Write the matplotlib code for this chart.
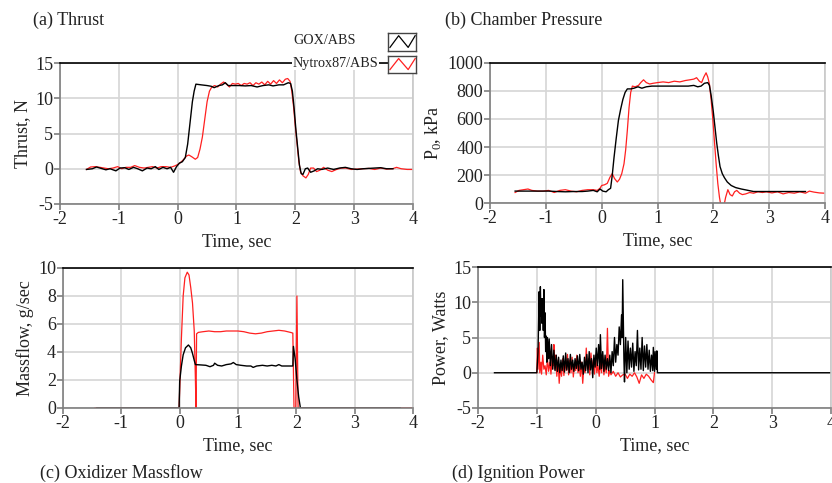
import matplotlib
matplotlib.use("Agg")
import matplotlib.pyplot as plt
import numpy as np

plt.rcParams['font.family'] = ['Liberation Serif', 'DejaVu Serif']
plt.rcParams['mathtext.fontset'] = 'custom'
plt.rcParams['mathtext.rm'] = 'Liberation Serif'
plt.rcParams['axes.unicode_minus'] = False

# ---- (a) thrust, N ----
thrust_gox_t = [-1.55, -1.45, -1.38, -1.30, -1.22, -1.15, -1.05, -0.98, -0.90, -0.83, -0.75, -0.68,
                -0.60, -0.52, -0.45, -0.38, -0.32, -0.25, -0.18, -0.12, -0.07, -0.02, 0.03, 0.08,
                0.13, 0.17, 0.21, 0.25, 0.28, 0.31, 0.40, 0.50, 0.57, 0.62, 0.70, 0.76, 0.81, 0.86,
                0.95, 1.05, 1.15, 1.25, 1.35, 1.45, 1.55, 1.62, 1.72, 1.80, 1.88, 1.92, 1.95, 1.98,
                2.01, 2.04, 2.07, 2.10, 2.13, 2.17, 2.21, 2.26, 2.32, 2.38, 2.45, 2.55, 2.65, 2.75,
                2.85, 2.95, 3.05, 3.15, 3.25, 3.35, 3.45, 3.55, 3.66]
thrust_gox = [-0.1, 0.0, 0.25, 0.05, -0.15, 0.0, -0.3, 0.1, 0.15, -0.1, 0.2, 0.0,
              -0.3, 0.1, 0.0, 0.3, -0.1, 0.2, 0.0, 0.2, -0.5, 0.3, 0.8, 1.0,
              1.6, 3.5, 6.5, 9.5, 11.0, 12.0, 11.9, 11.8, 11.7, 11.5, 11.8, 11.9, 12.2, 11.8,
              11.8, 11.8, 11.75, 11.8, 11.6, 11.8, 11.9, 11.75, 11.9, 11.9, 12.2, 12.1, 11.0, 8.5,
              5.5, 3.0, 0.5, -0.7, -0.8, 0.0, 0.1, -0.5, -0.3, 0.0, -0.1, 0.1, -0.1, 0.1,
              0.2, 0.0, -0.1, 0.0, 0.05, 0.1, 0.15, 0.0, 0.0]
thrust_nyt_t = [-1.55, -1.48, -1.40, -1.32, -1.25, -1.18, -1.10, -1.02, -0.95, -0.88, -0.80, -0.73,
                -0.65, -0.57, -0.50, -0.43, -0.35, -0.28, -0.20, -0.12, -0.05, 0.00, 0.05, 0.10,
                0.15, 0.19, 0.24, 0.30, 0.34, 0.38, 0.42, 0.46, 0.50, 0.54, 0.58, 0.63, 0.68, 0.73,
                0.78, 0.83, 0.88, 0.93, 0.98, 1.03, 1.08, 1.13, 1.18, 1.23, 1.28, 1.33, 1.38, 1.43,
                1.48, 1.53, 1.58, 1.63, 1.68, 1.73, 1.78, 1.83, 1.87, 1.91, 1.94, 1.97, 2.00, 2.03,
                2.06, 2.09, 2.13, 2.18, 2.22, 2.26, 2.31, 2.36, 2.42, 2.48, 2.55, 2.62, 2.70, 2.78,
                2.86, 2.95, 3.05, 3.15, 3.25, 3.35, 3.45, 3.55, 3.65, 3.72, 3.80, 3.90, 4.00]
thrust_nyt = [-0.1, 0.25, 0.3, 0.2, 0.1, 0.0, 0.1, 0.3, 0.0, 0.2, 0.2, 0.45,
              0.2, 0.1, 0.2, 0.3, 0.1, 0.3, 0.3, 0.2, 0.4, 0.6, 0.9, 1.3,
              1.8, 1.95, 1.7, 1.35, 1.6, 2.8, 4.5, 7.0, 9.5, 11.0, 11.6, 11.8, 11.6, 12.0,
              12.3, 12.0, 11.6, 12.1, 12.0, 12.1, 11.8, 12.1, 12.0, 12.2, 11.8, 12.2, 12.0, 12.3,
              11.9, 12.4, 12.0, 12.5, 12.1, 12.6, 12.2, 12.7, 12.8, 12.4, 11.0, 8.8, 6.0, 3.5,
              1.0, -0.5, -1.0, -1.3, -0.8, 0.1, 0.1, -0.4, -0.2, 0.2, -0.2, -0.4, -0.1, 0.1,
              0.1, -0.1, -0.05, 0.0, 0.05, -0.1, 0.1, -0.05, 0.0, 0.2, 0.0, -0.1, -0.1]

# ---- (b) chamber pressure, kPa ----
p0_gox_t = [-1.55, -1.40, -1.25, -1.10, -0.95, -0.80, -0.65, -0.50, -0.35, -0.25, -0.15, -0.08,
            -0.03, 0.02, 0.08, 0.12, 0.16, 0.19, 0.22, 0.26, 0.30, 0.34, 0.38, 0.42, 0.46, 0.52,
            0.58, 0.65, 0.72, 0.80, 0.90, 1.00, 1.20, 1.40, 1.55, 1.65, 1.72, 1.78, 1.84, 1.90,
            1.93, 1.96, 2.00, 2.03, 2.06, 2.09, 2.12, 2.16, 2.20, 2.25, 2.32, 2.40, 2.50, 2.60,
            2.72, 2.90, 3.10, 3.30, 3.50, 3.65]
p0_gox = [85, 85, 85, 85, 85, 82, 80, 82, 82, 85, 90, 80,
          100, 85, 80, 95, 105, 200, 320, 460, 590, 670, 740, 790, 815, 815,
          820, 830, 820, 830, 835, 835, 835, 835, 835, 840, 830, 835, 855, 860,
          840, 770, 650, 540, 430, 340, 260, 210, 180, 150, 125, 110, 100, 92,
          82, 82, 82, 82, 82, 82]
p0_nyt_t = [-1.55, -1.48, -1.40, -1.32, -1.25, -1.15, -1.05, -0.95, -0.85, -0.75, -0.65, -0.55,
            -0.45, -0.35, -0.25, -0.15, -0.08, -0.03, 0.00, 0.05, 0.10, 0.15, 0.19, 0.23, 0.28,
            0.32, 0.36, 0.40, 0.43, 0.46, 0.49, 0.52, 0.55, 0.60, 0.66, 0.70, 0.75, 0.80, 0.86,
            0.92, 1.00, 1.10, 1.20, 1.30, 1.40, 1.50, 1.58, 1.65, 1.70, 1.75, 1.79, 1.83, 1.87,
            1.90, 1.93, 1.96, 1.99, 2.02, 2.05, 2.08, 2.11, 2.14, 2.18, 2.22, 2.26, 2.30, 2.34,
            2.38, 2.42, 2.47, 2.52, 2.58, 2.65, 2.72, 2.80, 2.88, 2.95, 3.05, 3.15, 3.25, 3.35,
            3.45, 3.55, 3.65, 3.72, 3.80, 3.90, 4.00]
p0_nyt = [75, 90, 95, 100, 90, 85, 85, 90, 75, 90, 95, 85,
          80, 90, 95, 95, 90, 105, 125, 130, 140, 185, 210, 175, 150,
          170, 210, 280, 380, 520, 680, 790, 835, 830, 840, 860, 880, 860, 850,
          855, 860, 865, 860, 870, 865, 875, 880, 885, 895, 870, 860, 900, 930,
          900, 850, 740, 600, 440, 280, 140, 40, -30, -40, 40, 95, 60, 50,
          80, 90, 70, 60, 65, 75, 70, 80, 75, 80, 72, 80, 65, 75,
          70, 80, 70, 85, 78, 72, 70]

# ---- (c) oxidizer massflow, g/sec ----
mdot_gox_t = [-1.42, -0.01, 0.00, 0.03, 0.06, 0.10, 0.15, 0.19, 0.22, 0.25, 0.27, 0.35, 0.45,
              0.52, 0.58, 0.60, 0.65, 0.72, 0.80, 0.88, 0.92, 0.97, 1.05, 1.15, 1.22, 1.26,
              1.32, 1.42, 1.50, 1.58, 1.65, 1.70, 1.75, 1.85, 1.94, 1.95, 1.98, 2.01, 2.04,
              2.07, 2.50, 3.78]
mdot_gox = [0, 0, 1.9, 3.0, 3.8, 4.3, 4.5, 4.3, 3.9, 3.4, 3.1, 3.08, 3.05,
            2.95, 3.05, 3.2, 3.05, 3.0, 3.1, 3.15, 3.25, 3.1, 3.05, 3.0, 3.0, 2.9,
            3.0, 3.05, 3.0, 3.05, 3.0, 3.1, 3.0, 3.0, 3.0, 4.4, 3.5, 2.0, 0.8,
            0.0, 0.0, 0.0]
mdot_nyt_t = [-1.45, -0.01, 0.03, 0.06, 0.09, 0.13, 0.16, 0.19, 0.22, 0.25, 0.27, 0.28, 0.29,
              0.32, 0.40, 0.50, 0.60, 0.70, 0.80, 0.90, 1.00, 1.10, 1.20, 1.30, 1.40, 1.50,
              1.60, 1.70, 1.80, 1.90, 1.94, 1.96, 1.99, 2.01, 2.03, 3.00, 4.00]
mdot_nyt = [0, 0, 5.0, 8.0, 9.3, 9.7, 9.5, 8.6, 7.5, 5.5, 2.0, 0.0, 5.3,
            5.4, 5.45, 5.5, 5.45, 5.45, 5.5, 5.5, 5.5, 5.45, 5.35, 5.3, 5.35, 5.45,
            5.5, 5.55, 5.5, 5.4, 5.35, 0.0, 0.0, 8.0, 0.0, 0.0, 0.0]

# ---- (d) ignition power, W ----
pwr_gox_t = [-1.72, -1.00, -0.98, -0.96, -0.95, -0.94, -0.93, -0.92, -0.91, -0.90, -0.89, -0.88,
             -0.87, -0.86, -0.85, -0.84, -0.83, -0.82, -0.80, -0.79, -0.77, -0.75, -0.73, -0.71,
             -0.69, -0.67, -0.65, -0.63, -0.61, -0.59, -0.57, -0.55, -0.53, -0.51, -0.49, -0.47,
             -0.45, -0.43, -0.41, -0.39, -0.37, -0.35, -0.33, -0.31, -0.29, -0.27, -0.25, -0.23,
             -0.21, -0.19, -0.17, -0.15, -0.13, -0.11, -0.09, -0.07, -0.05, -0.03, -0.01, 0.01,
             0.03, 0.05, 0.07, 0.08, 0.10, 0.12, 0.14, 0.16, 0.18, 0.20, 0.22, 0.24, 0.26, 0.28,
             0.30, 0.32, 0.34, 0.36, 0.38, 0.40, 0.42, 0.44, 0.45, 0.46, 0.48, 0.49, 0.51, 0.53,
             0.55, 0.57, 0.59, 0.61, 0.63, 0.65, 0.67, 0.69, 0.71, 0.73, 0.75, 0.77, 0.79, 0.81,
             0.83, 0.85, 0.87, 0.89, 0.91, 0.93, 0.95, 0.97, 0.98, 1.00, 1.01, 1.03, 1.04, 1.05,
             4.00]
pwr_gox = [0, 0, 3.0, 11.5, 6.0, 12.2, 8.0, 10.5, 7.0, 10.5, 6.0, 11.8,
           5.0, 8.5, 3.0, 5.2, 1.5, 5.0, 2.0, 4.8, 1.0, 4.0, 0.5, 3.2,
           0.3, 2.5, 0.2, 2.2, 0.0, 1.8, 0.3, 2.4, 0.1, 2.8, 0.4, 2.0,
           0.0, 2.6, 0.5, 1.8, 0.2, 2.0, 0.6, 2.4, 0.3, 2.6, 0.5, 1.5,
           -0.2, 2.2, 0.3, 2.6, 0.0, 3.0, 0.4, 2.0, -0.7, 2.5, 0.8, 3.5,
           1.0, 4.0, 0.5, 5.4, 0.6, 3.0, 0.2, 2.5, 0.5, 2.0, 0.3, 2.5, 0.0, 3.0,
           1.0, 5.0, 1.5, 4.0, 2.5, 6.5, 4.0, 8.2, 5.0, 13.2, 2.0, -1.3, 5.0, 0.0,
           4.5, 0.5, 3.5, 0.8, 4.2, 0.2, 3.0, 1.0, 6.0, 0.4, 3.5, 0.5, 5.0, 0.3,
           3.8, 0.8, 4.0, 0.5, 3.2, 0.2, 2.5, 0.3, 3.6, 0.2, 3.0, 0.5, 3.1, 0.0,
           0.0]
pwr_nyt_t = [-1.00, -0.99, -0.98, -0.96, -0.95, -0.93, -0.92, -0.90, -0.88, -0.86, -0.84, -0.82,
             -0.80, -0.78, -0.76, -0.74, -0.72, -0.71, -0.70, -0.68, -0.66, -0.64, -0.62, -0.60,
             -0.58, -0.56, -0.54, -0.52, -0.50, -0.48, -0.46, -0.44, -0.42, -0.40, -0.38, -0.36,
             -0.34, -0.32, -0.30, -0.28, -0.26, -0.24, -0.22, -0.20, -0.18, -0.16, -0.14, -0.12,
             -0.10, -0.08, -0.06, -0.04, -0.02, 0.00, 0.02, 0.04, 0.06, 0.08, 0.10, 0.12, 0.14,
             0.16, 0.18, 0.20, 0.22, 0.24, 0.26, 0.30, 0.34, 0.38, 0.42, 0.46, 0.50, 0.54, 0.58,
             0.62, 0.66, 0.70, 0.74, 0.78, 0.82, 0.86, 0.90, 0.94, 0.98, 1.00]
pwr_nyt = [0.0, 3.5, 0.5, 4.3, 0.0, 1.5, -0.2, 2.5, 0.5, 1.0, -0.3, 2.0,
           0.2, 1.5, -0.2, 2.0, 1.0, 4.0, 0.5, 2.5, -0.5, 1.8, -1.5, 0.8,
           -0.5, 2.0, -0.4, 1.5, 0.3, 2.6, -0.3, 1.8, 0.0, 2.2, -0.6, 1.2,
           0.3, 2.5, 0.0, 1.0, -0.5, 1.5, -1.5, 0.8, 0.0, 3.5, 0.5, 2.0,
           -0.3, 2.8, 0.5, 1.8, -0.2, 2.5, 0.0, 1.0, -0.5, 1.5, 0.0, 2.5, -0.3,
           1.0, 0.0, 6.3, -0.5, 0.3, -0.3, 0.2, -0.5, 0.0, -0.6, -0.3, -0.2, -0.8, -0.2,
           -0.5, 0.0, -0.6, -1.5, -0.3, -0.8, -0.2, -0.5, -1.0, -1.4, 0.0]

x_ticks = [-2, -1, 0, 1, 2, 3, 4]

W, H = 832, 483
fig = plt.figure(figsize=(W / 100, H / 100), dpi=100)


def px_axes(l, t, r, b):
    return fig.add_axes([l / W, 1 - b / H, (r - l) / W, (b - t) / H])


def style(ax, ylim, yticks, ylabel):
    ax.set_xlim(-2, 4)
    ax.set_ylim(*ylim)
    ax.set_xticks(x_ticks)
    ax.set_yticks(yticks)
    ax.grid(True, color='#d6d6d6', linewidth=1.2)
    ax.set_axisbelow(True)
    ax.spines['top'].set_color('black')
    ax.spines['top'].set_linewidth(1.2)
    ax.spines['right'].set_color('#c8c8c8')
    ax.spines['right'].set_linewidth(1.2)
    for s in ['left', 'bottom']:
        ax.spines[s].set_color('#7f7f7f')
        ax.spines[s].set_linewidth(1.2)
    ax.tick_params(direction='out', length=4, width=1.2, color='#7f7f7f',
                   labelsize=13, labelcolor='#222222', pad=1)
    ax.set_xlabel('Time, sec', fontsize=13, color='#222222', labelpad=4)
    ax.set_ylabel(ylabel, fontsize=13, color='#222222', labelpad=3)


ax_a = px_axes(60, 63, 413, 204)
ax_a.plot(thrust_nyt_t, thrust_nyt, color='#ff2020', lw=0.9)
ax_a.plot(thrust_gox_t, thrust_gox, color='black', lw=1.0)
style(ax_a, (-5, 15), [-5, 0, 5, 10, 15], 'Thrust, N')

ax_b = px_axes(490, 63, 825, 203)
ax_b.plot(p0_nyt_t, p0_nyt, color='#ff2020', lw=0.9)
ax_b.plot(p0_gox_t, p0_gox, color='black', lw=1.0)
style(ax_b, (0, 1000), [0, 200, 400, 600, 800, 1000], r'P$_{\mathrm{0}}$, kPa')

ax_c = px_axes(63, 268, 413, 408)
ax_c.plot(mdot_nyt_t, mdot_nyt, color='#ff2020', lw=0.9)
ax_c.plot(mdot_gox_t, mdot_gox, color='black', lw=1.0)
style(ax_c, (0, 10), [0, 2, 4, 6, 8, 10], 'Massflow, g/sec')

ax_d = px_axes(478, 267, 831, 408)
ax_d.plot(pwr_nyt_t, pwr_nyt, color='#ff2020', lw=0.9)
ax_d.plot(pwr_gox_t, pwr_gox, color='black', lw=1.0)
style(ax_d, (-5, 15), [-5, 0, 5, 10, 15], 'Power, Watts')

# panel captions
for x, y, s in [(33, 20, '(a) Thrust'), (445, 20, '(b) Chamber Pressure'),
                (40, 473, '(c) Oxidizer Massflow'), (452, 473, '(d) Ignition Power')]:
    fig.text(x / W, 1 - y / H, s, fontsize=13, color='#222222', ha='left', va='center')

# legend: labels with a little framed line sample each
legend = [('GOX/ABS', 'black', 33, 51, 40), ('Nytrox87/ABS', '#ff2020', 56, 73, 63)]
for label, col, top, bot, ty in legend:
    fig.text(293 / W, 1 - ty / H, label, fontsize=10.2, color='#222222', ha='left', va='center',
             bbox=dict(facecolor='white', edgecolor='none', pad=0.5))
    box = px_axes(388, top, 416, bot)
    box.set_xlim(0, 1)
    box.set_ylim(0, 1)
    box.set_xticks([])
    box.set_yticks([])
    for s in box.spines.values():
        s.set_color('#444444')
        s.set_linewidth(1.0)
    box.plot([0.07, 0.38, 0.72, 0.97], [0.2, 0.85, 0.2, 0.85], color=col, lw=0.9)

fig.savefig('out.png', dpi=100)
